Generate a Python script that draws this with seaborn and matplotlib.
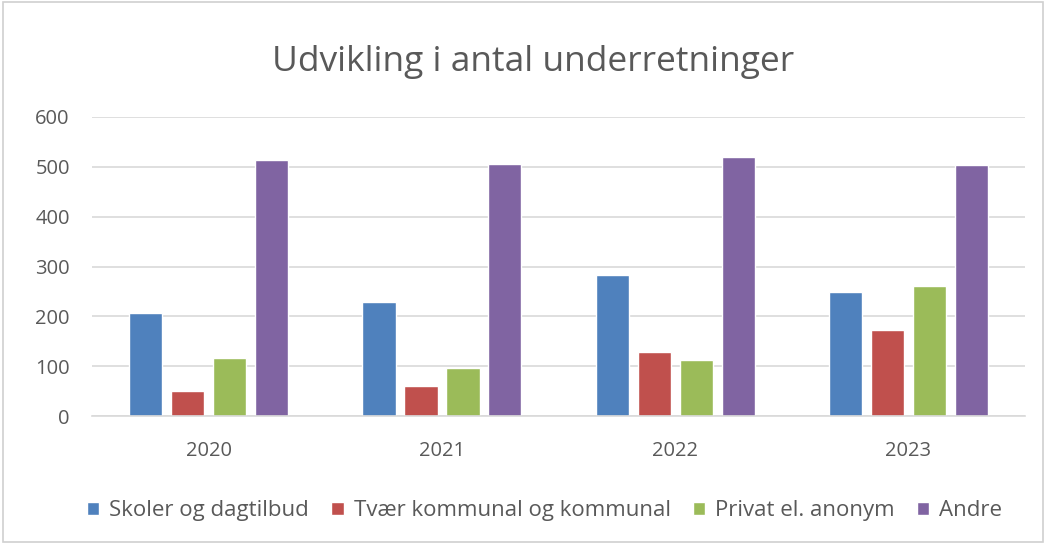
import matplotlib
matplotlib.use("Agg")
import matplotlib.pyplot as plt
import seaborn as sns
import pandas as pd

# ----------------------------------------------------------
# data
# ----------------------------------------------------------
years = ["2020", "2021", "2022", "2023"]
series = ["Skoler og dagtilbud", "Tvær kommunal og kommunal", "Privat el. anonym", "Andre"]
skoler = [207, 228, 284, 249]
tvaer = [50, 60, 128, 173]
privat = [117, 97, 112, 261]
andre = [514, 506, 519, 504]
colors = ["#4F81BD", "#C0504D", "#9BBB59", "#8064A2"]

rows = []
for name, vals in zip(series, [skoler, tvaer, privat, andre]):
    for y, v in zip(years, vals):
        rows.append({"year": y, "serie": name, "value": v})
df = pd.DataFrame(rows)

# ----------------------------------------------------------
# plot
# ----------------------------------------------------------
sns.set_style("white")
plt.rcParams["font.family"] = ["Open Sans", "DejaVu Sans"]

fig = plt.figure(figsize=(10.46, 5.44), dpi=100)
ax = fig.add_axes([0.088, 0.235, 0.892, 0.55])

sns.barplot(data=df, x="year", y="value", hue="serie", palette=colors,
            saturation=1, width=0.72, gap=0.21, ax=ax, legend=True)

ax.set_ylim(0, 600)
ax.set_yticks(range(0, 601, 100))
ax.yaxis.grid(True, color="#D9D9D9", lw=1.2)
ax.set_axisbelow(True)
for s in ["top", "right", "left"]:
    ax.spines[s].set_visible(False)
ax.spines["bottom"].set_color("#D9D9D9")
ax.spines["bottom"].set_linewidth(1.2)
ax.tick_params(axis="y", length=0, labelsize=14.5, labelcolor="#595959", pad=16)
ax.tick_params(axis="x", length=0, labelsize=14.5, labelcolor="#595959", pad=18)
ax.set_xlabel("")
ax.set_ylabel("")

fig.suptitle("Udvikling i antal underretninger", x=0.51, y=0.918, fontsize=25.5, color="#595959")

handles, labels = ax.get_legend_handles_labels()
ax.legend(handles, labels, loc="upper center", bbox_to_anchor=(0.485, -0.215), ncol=4,
          frameon=False, fontsize=16, labelcolor="#595959", handlelength=0.55,
          handleheight=0.55, handletextpad=0.45, columnspacing=1.0)

fig.patches.append(plt.Rectangle((0.003, 0.003), 0.994, 0.994, transform=fig.transFigure,
                                 fill=False, edgecolor="#D0D0D0", lw=1.2))

plt.savefig("out.png", dpi=100)
